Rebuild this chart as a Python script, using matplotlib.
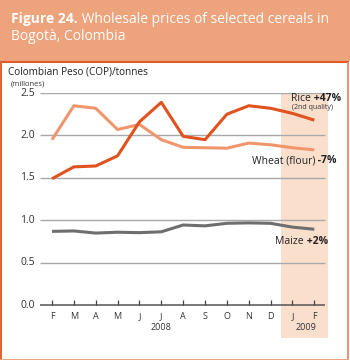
import numpy as np
import matplotlib
matplotlib.use('Agg')
from matplotlib import pyplot as plt
from matplotlib.patches import Rectangle

plt.rcParams['font.family'] = ['Open Sans', 'DejaVu Sans']

months = ['F', 'M', 'A', 'M', 'J', 'J', 'A', 'S', 'O', 'N', 'D', 'J', 'F']
rice = [1.49, 1.63, 1.64, 1.76, 2.16, 2.39, 1.99, 1.95, 2.25, 2.35, 2.32, 2.26, 2.18]
wheat = [1.95, 2.35, 2.32, 2.07, 2.13, 1.95, 1.86, 1.855, 1.85, 1.91, 1.89, 1.855, 1.83]
maize = [0.87, 0.875, 0.85, 0.86, 0.855, 0.865, 0.945, 0.935, 0.965, 0.97, 0.965, 0.92, 0.895]
yticks = [0.0, 0.5, 1.0, 1.5, 2.0, 2.5]

W, H = 350, 360
fig = plt.figure(figsize=(3.5, 3.6), dpi=100)
fig.patch.set_facecolor('white')

def fx(px):
    return px / W

def fy(py):
    return 1 - py / H

# header + frame
fig.add_artist(Rectangle((0, fy(61)), 1, 61 / H, transform=fig.transFigure,
                         facecolor='#EDA37C', edgecolor='none', zorder=0))
fig.add_artist(Rectangle((0, fy(63)), fx(349), 2 / H, transform=fig.transFigure,
                         facecolor='#E05A22', edgecolor='none', zorder=0))
fig.add_artist(Rectangle((0, 0), fx(2), fy(62), transform=fig.transFigure,
                         facecolor='#E06530', edgecolor='none', zorder=0))
fig.add_artist(Rectangle((fx(346.5), 0), 2.5 / W, fy(62), transform=fig.transFigure,
                         facecolor='#EE9468', edgecolor='none', zorder=0))
fig.add_artist(Rectangle((0, 0), fx(349), 1.5 / H, transform=fig.transFigure,
                         facecolor='#EFA27E', edgecolor='none', zorder=0))

renderer = fig.canvas.get_renderer()

def two_part(x, y, a, b, size, color, bold_first, **kw):
    t1 = fig.text(x, y, a, fontsize=size, color=color,
                  fontweight='bold' if bold_first else 'normal', **kw)
    bb = t1.get_window_extent(renderer)
    x2 = bb.x1 / (W)
    fig.text(x2, y, b, fontsize=size, color=color,
             fontweight='normal' if bold_first else 'bold', **kw)

two_part(fx(11), fy(23), 'Figure 24.', ' Wholesale prices of selected cereals in',
         10.0, 'white', True, va='baseline')
fig.text(fx(11), fy(40), 'Bogotà, Colombia', fontsize=10.0, color='white', va='baseline')

fig.text(fx(8), fy(72), 'Colombian Peso (COP)/tonnes', fontsize=7.2, color='#222222', va='center')
fig.text(fx(11), fy(84), '(millones)', fontsize=5.5, color='#333333', va='center')

ax = fig.add_axes([fx(38), fy(338), fx(330) - fx(38), (338 - 93) / H])
x = np.arange(len(months))
ax.set_xlim((38 - 52) / 21.86, (330 - 52) / 21.86)
ax.set_ylim(-0.386, 2.5)
ax.axis('off')

ax.axvspan((280.7 - 52) / 21.86, (327.7 - 52) / 21.86, color='#FADFCD', lw=0, zorder=0)
gx0, gx1 = (40 - 52) / 21.86, (325 - 52) / 21.86
ax.hlines(yticks[1:], gx0, gx1, color='#A8A8A8', lw=1.0, zorder=1)
ax.hlines(0, gx0, gx1, color='#555555', lw=1.1, zorder=2)
ax.vlines(x, 0, 0.06, color='#444444', lw=0.9, zorder=2)

for v in yticks:
    ax.text((35 - 52) / 21.86, v, '%.1f' % v, ha='right', va='center',
            fontsize=7.5, color='#333333', clip_on=False)
for i, m in enumerate(months):
    ax.text(i, -0.13, m, ha='center', va='center', fontsize=6.5, color='#333333')
ax.text(5, -0.26, '2008', ha='center', va='center', fontsize=6.5, color='#333333')
ax.text(11.6, -0.26, '2009', ha='center', va='center', fontsize=6.5, color='#333333')

ax.plot(x, maize, color='#6E6E6E', lw=2.2, zorder=3, solid_capstyle='butt')
ax.plot(x, wheat, color='#F0966C', lw=2.2, zorder=3, solid_capstyle='butt')
ax.plot(x, rice, color='#E0521E', lw=2.2, zorder=4, solid_capstyle='butt')

two_part(fx(291.5), fy(101), 'Rice', ' +47%', 7.5, '#222222', False, va='baseline')
fig.text(fx(292.5), fy(107.5), '(2nd quality)', fontsize=5.0, color='#333333', va='center')
two_part(fx(252), fy(163.5), 'Wheat (flour)', ' -7%', 7.5, '#222222', False, va='baseline')
two_part(fx(275), fy(244.5), 'Maize', ' +2%', 7.5, '#222222', False, va='baseline')

fig.savefig('out.png', dpi=100)
